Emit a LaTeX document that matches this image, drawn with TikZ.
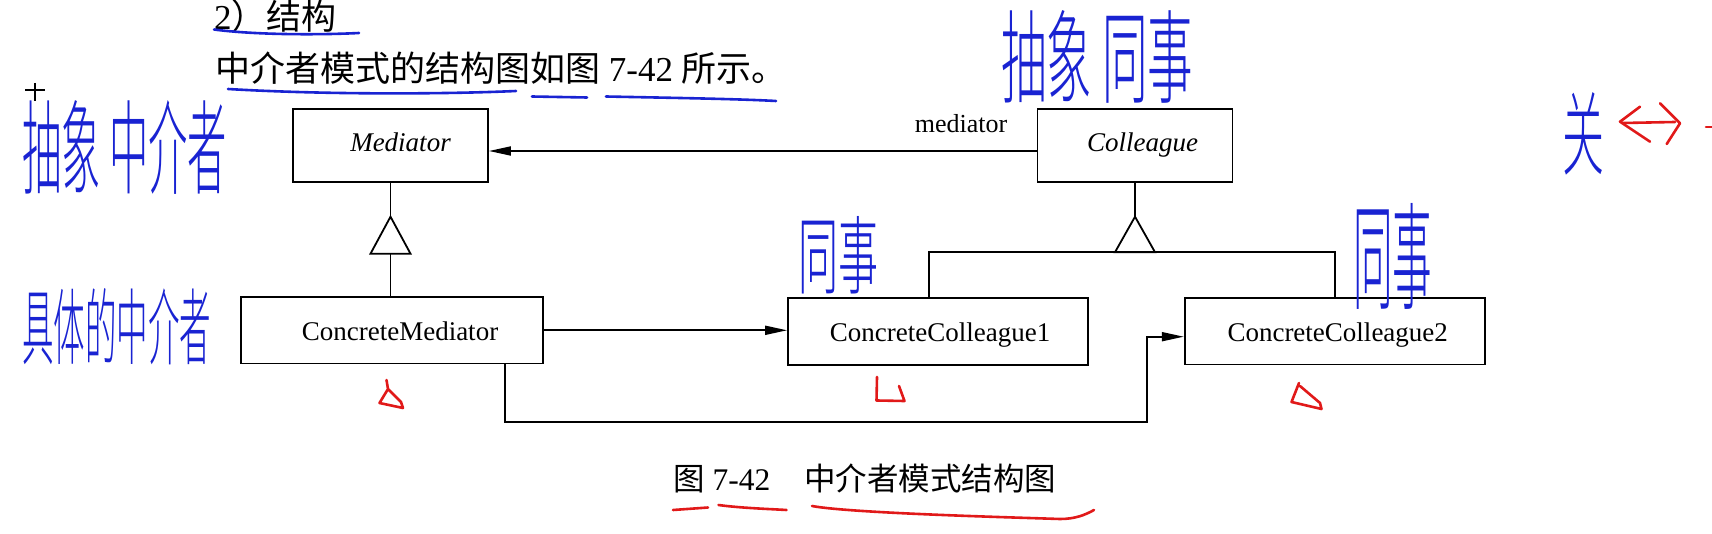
\documentclass[tikz,border=0pt]{standalone}
\usepackage{fontspec}
\setmainfont{Liberation Serif}
\newfontfamily\cjk{Noto Sans CJK SC}
\IfFontExistsTF{Noto Sans CJK SC Light}
  {\newfontfamily\cjkhand{Noto Sans CJK SC Light}}
  {\newfontfamily\cjkhand{Noto Sans CJK SC}}
\usetikzlibrary{arrows.meta,calc}
\definecolor{inkblue}{RGB}{25,35,210}
\definecolor{inkred}{RGB}{225,25,25}
\begin{document}
\begin{tikzpicture}[x=1pt,y=-1pt,
  box/.style={draw, line width=1.8pt, inner sep=0pt, text height=19pt, text depth=6.75pt,
    font=\fontsize{27}{30}\selectfont},
  abox/.style={box, minimum width=195pt, minimum height=72.7pt, font=\fontsize{27}{30}\selectfont\itshape},
  cbox/.style={box, minimum width=300pt, minimum height=66.5pt, text height=27pt},
  conn/.style={line width=1.8pt},
  arr/.style={conn, -{Triangle[length=22pt,width=9pt]}},
  printed/.style={anchor=base west, inner sep=0pt},
  hand/.style={inkblue, inner sep=0pt, anchor=north west},
  blueline/.style={inkblue, line width=2.6pt, line cap=round},
  redline/.style={inkred, line width=2.6pt, line cap=round, line join=round}
]
\useasboundingbox (0,0) rectangle (1712,534);

% ---------- printed text ----------
\node[printed, font=\fontsize{35}{40}\selectfont] (head) at (214,30) {2{\cjk ）结构}};
\node[printed, font=\fontsize{35}{40}\selectfont] (intro) at (215,82)
  {{\cjk 中介者模式的结构图如图} 7-42 {\cjk 所示。}};
\node[printed, font=\fontsize{31.5}{36}\selectfont] (cap) at (673,490)
  {{\cjk 图} 7-42\hspace{34pt}{\cjk 中介者模式结构图}};

% ---------- class boxes ----------
\node[abox] (Med) at (390.5,145.3) {\hspace*{20pt}Mediator};
\node[abox] (Col) at (1135,145.3) {\hspace*{15pt}Colleague};
\node[cbox, minimum width=302pt] (CM) at (392,330.3) {\hspace*{16pt}ConcreteMediator};
\node[cbox] (CC1) at (938,331.5) {\hspace*{4pt}ConcreteColleague1};
\node[cbox] (CC2) at (1334.7,331.3) {\hspace*{6pt}ConcreteColleague2};

% ---------- connectors ----------
\draw[arr] ([yshift=-5.7pt]Col.west) -- ([yshift=-5.7pt]Med.east);
\node[anchor=base, inner sep=0pt, font=\fontsize{26}{28}\selectfont] (lbl) at (961,133) {mediator};

% Mediator generalization
\coordinate (ap1) at (390.5,216.7);
\draw[conn] (Med.south) -- (ap1);
\draw[conn, line join=miter] (ap1) -- ++(-20,37) -- ++(40,0) -- cycle;
\draw[conn] ($(ap1)+(0,37)$) -- (ap1 |- CM.north);

% Colleague generalization
\coordinate (ap2) at (1135,216.7);
\coordinate (bar) at (0,252.2);
\draw[conn] (Col.south) -- (ap2);
\draw[conn] (ap2) -- ++(-20,35.5) -- ++(40,0) -- cycle;
\draw[conn] ([xshift=-8.7pt]CC1.north) |- (bar -| CC2.north) -- (CC2.north);

% ConcreteMediator -> colleagues
\draw[arr] (CM.east) -- (CM.east -| CC1.west);
\coordinate (vx) at (505,422);
\coordinate (ux) at (1146.7,422);
\draw[arr] (CM.south -| vx) -- (vx) -- (ux) |- ([yshift=-5.4pt]CC2.west);

% ---------- annotations ----------
\draw[line width=1.3pt] (25,90) -- (45,90) (35,83) -- (35,101);

\draw[blueline] (214,29.5) .. controls (255,35) and (320,35) .. (359,33);
\draw[blueline] (228,89) .. controls (330,95) and (450,94) .. (516,91);
\draw[blueline] (532,96.5) -- (587,97.5);
\draw[blueline] (606,96.5) .. controls (680,98) and (740,99) .. (776,101);

\draw[redline] (673,510) -- (708,507.5);
\draw[redline] (718.5,505) .. controls (740,508) and (770,509) .. (786.5,510);
\draw[redline] (812,506) .. controls (850,513) and (1000,517) .. (1060,519)
  .. controls (1075,519) and (1085,515) .. (1094,510);

\draw[redline] (386.5,380) -- (388,389) -- (379.5,403) -- (403,408) -- (401,402) -- (388,389);
\draw[redline] (877,377) -- (876.5,400.5) -- (904.5,401) -- (899,386);
\draw[redline] (1299,383) -- (1291.5,402) -- (1321.5,409) -- (1320,403) -- (1300,386);

\draw[redline] (1640,106.7) -- (1620,121.7) -- (1650,141.7);
\draw[redline] (1623,123) -- (1675,122);
\draw[redline] (1660,103.3) -- (1680,123.3) -- (1666.7,144);
\draw[redline] (1706,127) -- (1712,127);

\node[hand] (hw1) at (22,100) {\resizebox{205pt}{86pt}{\cjkhand 抽象 中介者}};
\node[hand] (hw2) at (22,288) {\resizebox{189pt}{70pt}{\cjkhand 具体的中介者}};
\node[hand] (hw3) at (1001,10) {\resizebox{192pt}{85pt}{\cjkhand 抽象 同事}};
\node[hand] (hw4) at (798,216) {\resizebox{80pt}{71pt}{\cjkhand 同事}};
\node[hand] (hw5) at (1353,203) {\resizebox{79pt}{97pt}{\cjkhand 同事}};
\node[hand] (hw6) at (1562,92) {\resizebox{42pt}{76pt}{\cjkhand 关}};
\end{tikzpicture}
\end{document}
